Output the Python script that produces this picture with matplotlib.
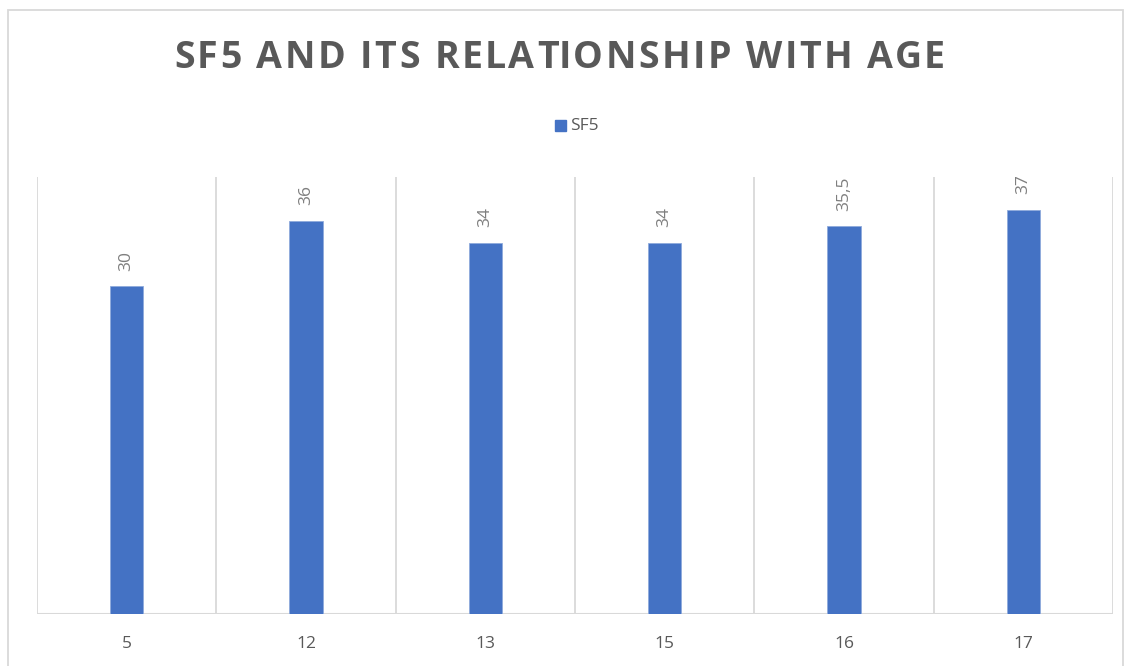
import matplotlib.pyplot as plt
from matplotlib.patches import Rectangle
import numpy as np

# data
ages = ["5", "12", "13", "15", "16", "17"]
sf5 = [30, 36, 34, 34, 35.5, 37]
title = "SF5 AND ITS RELATIONSHIP WITH AGE"

bar_color = "#4472C4"
grid_color = "#D9D9D9"
text_color = "#595959"

plt.rcParams['font.family'] = ['Open Sans', 'DejaVu Sans']

fig = plt.figure(figsize=(11.34, 6.66), dpi=100)
ax = fig.add_axes([37/1134, 52/666, 1076/1134, 437/666])

x = np.arange(len(ages))
bars = ax.bar(x, sf5, width=0.185, color=bar_color, edgecolor="#8FAADC", linewidth=0.6, zorder=3)

ax.set_xlim(-0.5, len(ages) - 0.5)
ax.set_ylim(0, 40)

# category separators
for b in np.arange(-0.5, len(ages), 1.0):
    ax.axvline(b, color=grid_color, linewidth=1.3, zorder=1)
ax.axhline(0, color=grid_color, linewidth=1.5, zorder=2)

for s in ax.spines.values():
    s.set_visible(False)
ax.set_yticks([])
ax.set_xticks(x)
ax.set_xticklabels(ages, color=text_color, fontsize=12.5)
ax.tick_params(axis="x", length=0, pad=16)

# rotated value labels
for xi, v in zip(x, sf5):
    lbl = ("%g" % v).replace(".", ",")
    ax.annotate(lbl, (xi, v), xytext=(0, 11), textcoords="offset points",
                rotation=90, ha="center", va="bottom", fontsize=12.5, color="#7F7F7F")

# title with letter spacing, spread from x=174 to x=945 px
renderer = fig.canvas.get_renderer()
tkw = dict(fontsize=27, fontweight="bold", color=text_color)
def text_w(s):
    t = fig.text(0, 0, s, **tkw)
    w = t.get_window_extent(renderer).width if s.strip() else 0
    t.remove()
    return w
full_w = text_w(title)
spacing = (771 - full_w) / (len(title) - 1)
x0 = 174
for i, ch in enumerate(title):
    if ch == " ":
        continue
    off = text_w(title[:i] + "|") - text_w("|") if i > 0 else 0
    fig.text((x0 + off + i * spacing) / 1134, 1 - 58/666, ch, ha="left", va="center", **tkw)

# legend
fig.patches.append(Rectangle((555/1134, 1 - 131/666), 11/1134, 11/666,
                             transform=fig.transFigure, color=bar_color))
fig.text(570/1134, 1 - 126/666, "SF5", ha="left", va="center", fontsize=12.5, color=text_color)

# chart border
fig.patches.append(Rectangle((8/1134, -0.05), 1115/1134, 1 - 10/666 + 0.05,
                             transform=fig.transFigure, fill=False, edgecolor=grid_color, linewidth=1.3))

fig.savefig("out.png", dpi=100)
